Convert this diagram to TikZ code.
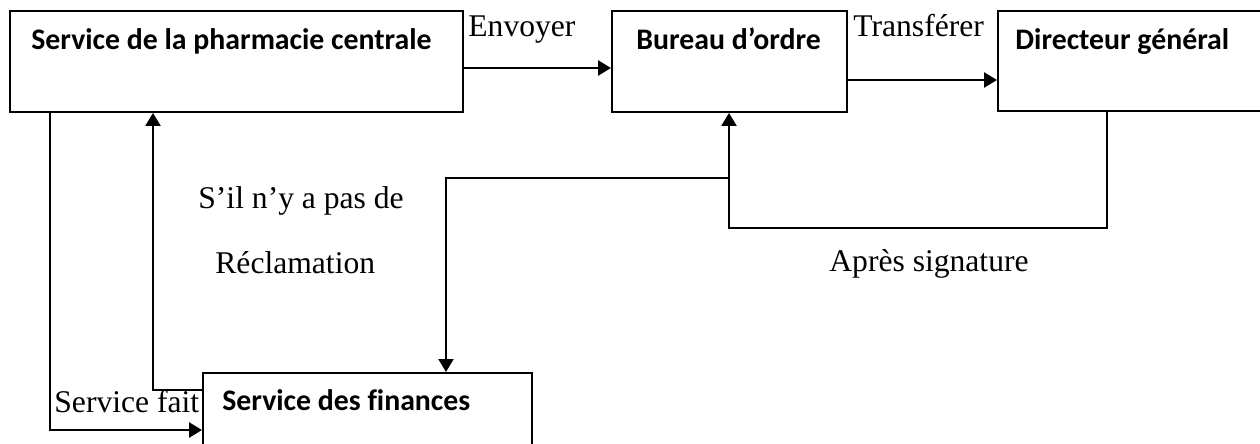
\documentclass[tikz,border=0pt]{standalone}
\usepackage{fontspec}
\setmainfont{Liberation Serif}
\newfontfamily\boxfont[Ligatures=NoCommon]{Carlito}
\usetikzlibrary{arrows.meta}

\begin{document}
\begin{tikzpicture}[x=0.5pt,y=-0.5pt,
    box/.style={draw,line width=1pt,inner sep=0pt,anchor=north west},
    title/.style={anchor=base west,inner sep=0pt,font=\boxfont\bfseries\fontsize{14.9}{17}\selectfont},
    lbl/.style={anchor=base west,inner sep=0pt,font=\fontsize{15.8}{18}\selectfont},
    flow/.style={line width=1.3pt,-{Triangle[length=6.5pt,width=7.5pt]}},
    thin flow/.style={line width=1pt,-{Triangle[length=6.5pt,width=7.5pt]}}]
    \useasboundingbox (0,0) rectangle (1260,444);
    % Draw the four services
    \node[box,minimum width=226.5pt,minimum height=50.5pt] (pharm) at (9,10) {};
    \node[box,minimum width=117.5pt,minimum height=50.5pt] (bureau) at (611,10) {};
    \node[box,minimum width=140pt,minimum height=50pt] (dir) at (997,10) {};
    \node[box,minimum width=164.5pt,minimum height=50pt] (fin) at (202,372) {};
    \node[title] (pharmT) at (31,50) {Service de la pharmacie centrale};
    \node[title] (bureauT) at (636,50) {Bureau d’ordre};
    \node[title] (dirT) at (1015,50) {Directeur général};
    \node[title] (finT) at (222,410) {Service des finances};
    % Labels along the flows
    \node[lbl] (envoyer) at (468,37) {Envoyer};
    \node[lbl] (transferer) at (853,37) {Transférer};
    \node[lbl] (silnya) at (198,209) {S’il n’y a pas de};
    \node[lbl] (reclam) at (215,273) {Réclamation};
    \node[lbl] (apres) at (829,271) {Après signature};
    \node[lbl] (fait) at (54,412) {Service fait};
    % Bends of the connectors
    \coordinate (envY) at (0,68);
    \coordinate (trY) at (0,80);
    \coordinate (sigX) at (1107,0);
    \coordinate (sigY) at (0,228);
    \coordinate (upX) at (729,0);
    \coordinate (branchY) at (0,178);
    \coordinate (finX) at (446,0);
    \coordinate (leftX) at (50,0);
    \coordinate (faitY) at (0,430);
    \coordinate (retX) at (153,0);
    \coordinate (retY) at (0,390);
    % Envoyer, Transferer
    \draw[flow] (pharm.east |- envY) -- (bureau.west |- envY);
    \draw[flow] (bureau.east |- trY) -- (dir.west |- trY);
    % Apres signature back to the bureau, then on to the finances
    \draw[flow] (dir.south -| sigX) |- (upX |- sigY) -- (bureau.south -| upX);
    \draw[thin flow] (upX |- branchY) -| (fin.north -| finX);
    % Service fait and the way back
    \draw[flow] (pharm.south -| leftX) |- (fin.west |- faitY);
    \draw[flow] (fin.west |- retY) -| (pharm.south -| retX);
\end{tikzpicture}
\end{document}
